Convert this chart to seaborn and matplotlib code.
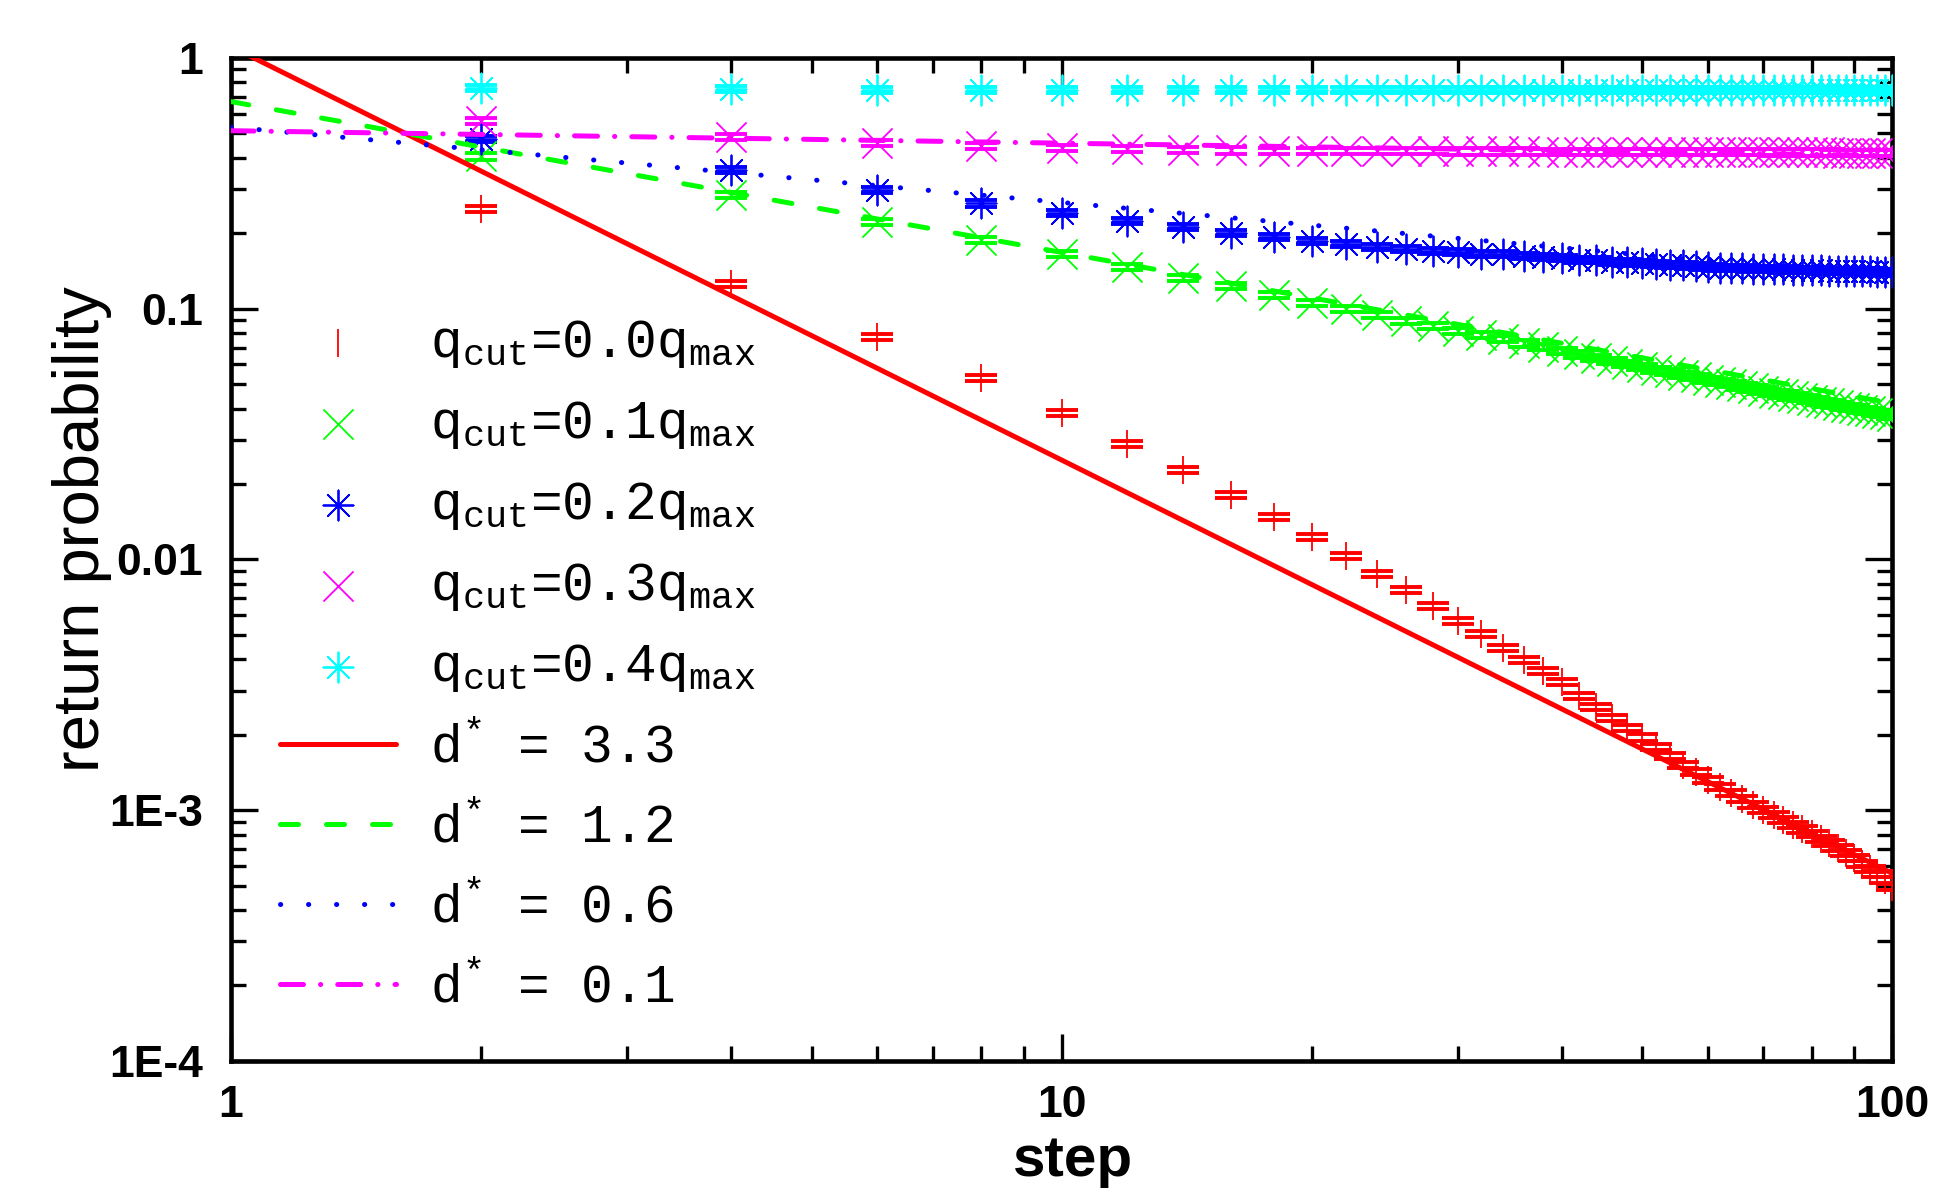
import numpy as np
import matplotlib
matplotlib.use("Agg")
import matplotlib.pyplot as plt
import seaborn as sns
from matplotlib.ticker import LogLocator, NullFormatter

# steps where the return probability was sampled
steps = [2, 4, 6, 8, 10, 12, 14, 16, 18, 20, 22, 24, 26, 28, 30, 32, 34, 36, 38, 40,
         42, 44, 46, 48, 50, 52, 54, 56, 58, 60, 62, 64, 66, 68, 70, 72, 74, 76, 78, 80,
         82, 84, 86, 88, 90, 92, 94, 96, 98, 100]

# qcut = 0.0 qmax
p_q00 = [0.251, 0.126, 0.0774, 0.0528, 0.0385, 0.0290, 0.0228, 0.0181, 0.0148, 0.01225,
         0.01033, 0.00873, 0.00755, 0.00653, 0.00570, 0.00504, 0.00443, 0.00397, 0.00359, 0.00324,
         0.00286, 0.00258, 0.00234, 0.00213, 0.00195, 0.00179, 0.00164, 0.00152, 0.00142, 0.00132,
         0.00124, 0.00117, 0.00111, 0.00105, 0.00100, 0.000957, 0.000914, 0.000873, 0.000838, 0.000804,
         0.000771, 0.000741, 0.000708, 0.000675, 0.000643, 0.000611, 0.000583, 0.000555, 0.000525, 0.000495]
# qcut = 0.1 qmax
p_q01 = [0.405, 0.284, 0.222, 0.188, 0.165, 0.147, 0.133, 0.123, 0.1135, 0.1057,
         0.0995, 0.0944, 0.0896, 0.0856, 0.0818, 0.0785, 0.0755, 0.0727, 0.0702, 0.0679,
         0.0657, 0.0638, 0.0620, 0.0603, 0.0587, 0.0572, 0.0558, 0.0545, 0.0533, 0.0522,
         0.0511, 0.0500, 0.0490, 0.0481, 0.0472, 0.0463, 0.0455, 0.0447, 0.0440, 0.0433,
         0.0426, 0.0419, 0.0413, 0.0407, 0.0401, 0.0395, 0.0390, 0.0384, 0.0379, 0.0374]
# qcut = 0.2 qmax
p_q02 = [0.475, 0.357, 0.298, 0.263, 0.241, 0.224, 0.212, 0.201, 0.193, 0.187,
         0.182, 0.177, 0.173, 0.170, 0.168, 0.166, 0.165, 0.163, 0.161, 0.159,
         0.157, 0.156, 0.154, 0.153, 0.152, 0.151, 0.150, 0.149, 0.148, 0.147,
         0.146, 0.1455, 0.145, 0.1445, 0.144, 0.1437, 0.1434, 0.1431, 0.1428, 0.1425,
         0.1422, 0.142, 0.1417, 0.1415, 0.1413, 0.1411, 0.1409, 0.1407, 0.1406, 0.1405]
# qcut = 0.3 qmax
p_q03 = [0.560, 0.485, 0.460, 0.445, 0.437, 0.432, 0.430, 0.428, 0.427, 0.426,
         0.426, 0.425, 0.425, 0.425, 0.424, 0.424, 0.424, 0.424, 0.423, 0.423,
         0.423, 0.423, 0.423, 0.422, 0.422, 0.422, 0.422, 0.422, 0.422, 0.421,
         0.421, 0.421, 0.421, 0.421, 0.421, 0.420, 0.420, 0.420, 0.420, 0.420,
         0.420, 0.420, 0.419, 0.419, 0.419, 0.419, 0.419, 0.419, 0.419, 0.418]
# qcut = 0.4 qmax
p_q04 = [0.757, 0.750, 0.748, 0.748, 0.748, 0.748, 0.748, 0.748, 0.748, 0.748,
         0.748, 0.748, 0.748, 0.748, 0.748, 0.748, 0.748, 0.748, 0.748, 0.748,
         0.748, 0.748, 0.748, 0.748, 0.748, 0.748, 0.748, 0.748, 0.748, 0.748,
         0.748, 0.748, 0.748, 0.748, 0.748, 0.748, 0.748, 0.748, 0.748, 0.748,
         0.748, 0.748, 0.748, 0.748, 0.748, 0.748, 0.748, 0.748, 0.748, 0.748]
err_frac = 0.028  # relative error bars

# power-law guides, end points at step 1 and 100
fit_steps = [1, 100]
fit_d33 = [1.11, 5.6e-4]
fit_d12 = [0.67, 0.042]
fit_d06 = [0.53, 0.133]
fit_d01 = [0.513, 0.408]

sns.set_theme(style="white", rc={"axes.edgecolor": "black", "text.color": "black",
                                 "axes.labelcolor": "black", "xtick.color": "black",
                                 "ytick.color": "black"})
plt.rcParams["font.family"] = ["Liberation Sans", "DejaVu Sans"]
plt.rcParams["mathtext.fontset"] = "custom"
plt.rcParams["mathtext.rm"] = "Liberation Mono"
plt.rcParams["mathtext.it"] = "Liberation Mono"
plt.rcParams["mathtext.bf"] = "Liberation Mono:bold"

fig = plt.figure(figsize=(19.5, 11.96), dpi=100)
ax = fig.add_axes([0.1185, 0.1129, 0.8518, 0.8386])
ax.set_xscale("log")
ax.set_yscale("log")

asterisk = (8, 2, 0)
series = [
    (r"q$_{cut}$=0.0q$_{max}$", p_q00, "#ff0000", "|", 380),
    (r"q$_{cut}$=0.1q$_{max}$", p_q01, "#00ff00", "x", 470),
    (r"q$_{cut}$=0.2q$_{max}$", p_q02, "#0000ff", asterisk, 470),
    (r"q$_{cut}$=0.3q$_{max}$", p_q03, "#ff00ff", "x", 470),
    (r"q$_{cut}$=0.4q$_{max}$", p_q04, "#00ffff", asterisk, 470),
]
for label, vals, color, marker, size in series:
    y = np.array(vals)
    ax.errorbar(steps, y, yerr=y * err_frac, fmt="none", ecolor=color, elinewidth=0,
                capsize=11.5, capthick=2.8, zorder=3)
    sns.scatterplot(x=steps, y=vals, marker=marker, s=size, color=color, linewidth=1.3,
                    ax=ax, label=label, zorder=4)

fits = [
    (r"d$^{*}$ = 3.3", fit_d33, "#ff0000", "-", "butt"),
    (r"d$^{*}$ = 1.2", fit_d12, "#00ff00", (0, (3.6, 5.6)), "round"),
    (r"d$^{*}$ = 0.6", fit_d06, "#0000ff", (0, (0.05, 5.55)), "round"),
    (r"d$^{*}$ = 0.1", fit_d01, "#ff00ff", (0, (4.6, 3.4, 0.05, 3.4)), "round"),
]
for label, vals, color, ls, cap in fits:
    sns.lineplot(x=fit_steps, y=vals, color=color, linewidth=3.6, linestyle=ls,
                 dash_capstyle=cap, ax=ax, label=label, zorder=5)

ax.set_xlim(1, 100)
ax.set_ylim(1e-4, 1)
ax.set_xticks([1, 10, 100])
ax.set_xticklabels(["1", "10", "100"])
ax.set_yticks([1e-4, 1e-3, 1e-2, 1e-1, 1])
ax.set_yticklabels(["1E-4", "1E-3", "0.01", "0.1", "1"])
ax.xaxis.set_minor_locator(LogLocator(base=10, subs=np.arange(2, 10)))
ax.yaxis.set_minor_locator(LogLocator(base=10, subs=np.arange(2, 10)))
ax.xaxis.set_minor_formatter(NullFormatter())
ax.yaxis.set_minor_formatter(NullFormatter())
ax.tick_params(which="both", direction="in", top=True, right=True, bottom=True, left=True)
ax.tick_params(which="major", length=19.5, width=2.4, labelsize=32)
ax.tick_params(which="minor", length=10.8, width=2.4)
ax.tick_params(axis="x", which="major", pad=17)
ax.tick_params(axis="y", which="major", pad=20)
for lab in ax.get_xticklabels() + ax.get_yticklabels():
    lab.set_fontweight("bold")
for sp in ax.spines.values():
    sp.set_linewidth(3.3)
    sp.set_color("black")

ax.set_xlabel("step", fontsize=42, fontweight="bold")
ax.set_ylabel("return probability", fontsize=47)
ax.xaxis.set_label_coords(0.507, -0.073)
ax.yaxis.set_label_coords(-0.0716, 0.53)

handles, labels = ax.get_legend_handles_labels()
ax.legend(handles, labels, loc="upper left", bbox_to_anchor=(0.0295, 0.741),
          frameon=False, prop={"family": "Liberation Mono", "size": 38},
          handlelength=2.2, handletextpad=0.65, labelspacing=0.55, borderpad=0,
          borderaxespad=0, scatterpoints=1)

fig.savefig("out.png", dpi=100)
